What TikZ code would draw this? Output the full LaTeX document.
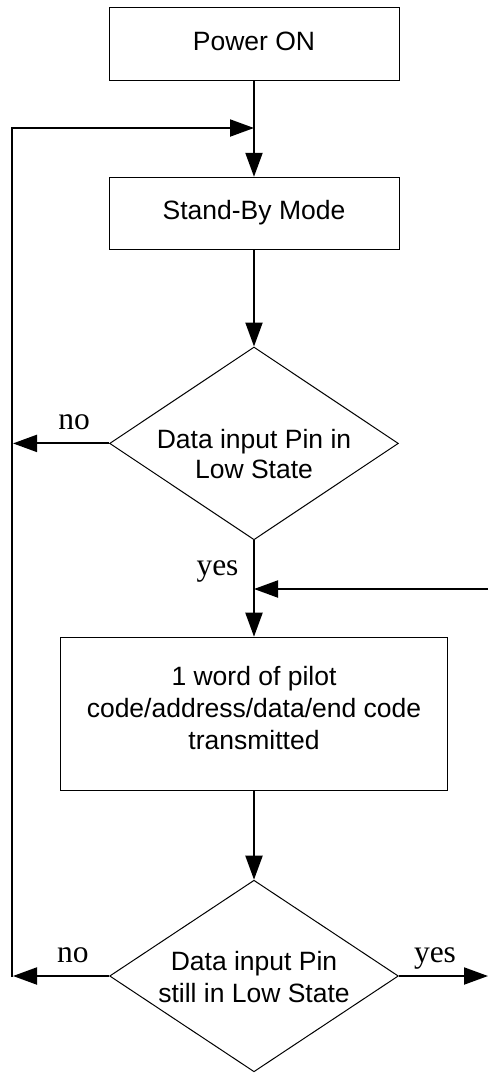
\documentclass[tikz,border=0pt]{standalone}
\usepackage{fontspec}
\setmainfont{Liberation Serif}
\newfontfamily\arialf{Liberation Sans}
\usetikzlibrary{arrows.meta,shapes.geometric}
\begin{document}
\begin{tikzpicture}[x=0.5pt,y=-0.5pt,
  box/.style={draw,line width=0.5pt,inner sep=0pt,
    font=\arialf\fontsize{13.25}{16}\selectfont,text height=9.5pt,text depth=3pt},
  dia/.style={draw,diamond,line width=0.5pt,inner sep=0pt,
    minimum width=144.4pt,minimum height=96.4pt},
  txt/.style={font=\arialf\fontsize{13.25}{16}\selectfont,align=center,inner sep=0pt},
  lbl/.style={font=\fontsize{15.75}{18}\selectfont,inner sep=0pt,anchor=base},
  conn/.style={line width=1pt},
  arr/.style={conn,-{Triangle[length=12pt,width=8.5pt]}}]
\useasboundingbox (0,0) rectangle (488,1073);

% boxes
\node[box,minimum width=145pt,minimum height=36.5pt] (p) at (254,43.6) {Power ON};
\node[box,minimum width=145pt,minimum height=36pt] (s) at (254,213.3) {Stand-By Mode};
\node[dia] (d1) at (254,443.4) {};
\node[txt,font=\arialf\fontsize{13.25}{15}\selectfont] (d1t) at (254,454) {Data input Pin in\\Low State};
\node[draw,line width=0.5pt,inner sep=0pt,minimum width=193.4pt,minimum height=76.4pt] (t) at (254,713.6) {};
\node[txt] (tt) at (254,708.5) {1 word of pilot\\code/address/data/end code\\transmitted};
\node[dia,minimum height=95.8pt] (d2) at (254,976) {};
\node[txt] (d2t) at (254,977.2) {Data input Pin\\still in Low State};

% coordinates
\coordinate (j1) at (254,128);
\coordinate (lt) at (12,128);
\coordinate (lb) at (12,977);
\coordinate (l1) at (13,443.4);
\coordinate (l2) at (13,976);
\coordinate (j2) at (254,589);
\coordinate (r2) at (488,589);
\coordinate (r3) at (488,976);

% connectors
\draw[arr] (p) -- (s);
\draw[arr] (lb) -- (lt) -- (j1);
\draw[arr] (s) -- (d1);
\draw[arr] (d1.west) -- (l1);
\draw[arr] (d1) -- (t);
\draw[arr] (r2) -- (j2);
\draw[arr] (t) -- (d2);
\draw[arr] (d2.west) -- (l2);
\draw[arr] (d2.east) -- (r3);

% labels
\node[lbl] (no1) at (74,429) {no};
\node[lbl] (yes1) at (217.5,575) {yes};
\node[lbl] (no2) at (73,962) {no};
\node[lbl] (yes2) at (435,962) {yes};
\end{tikzpicture}
\end{document}
